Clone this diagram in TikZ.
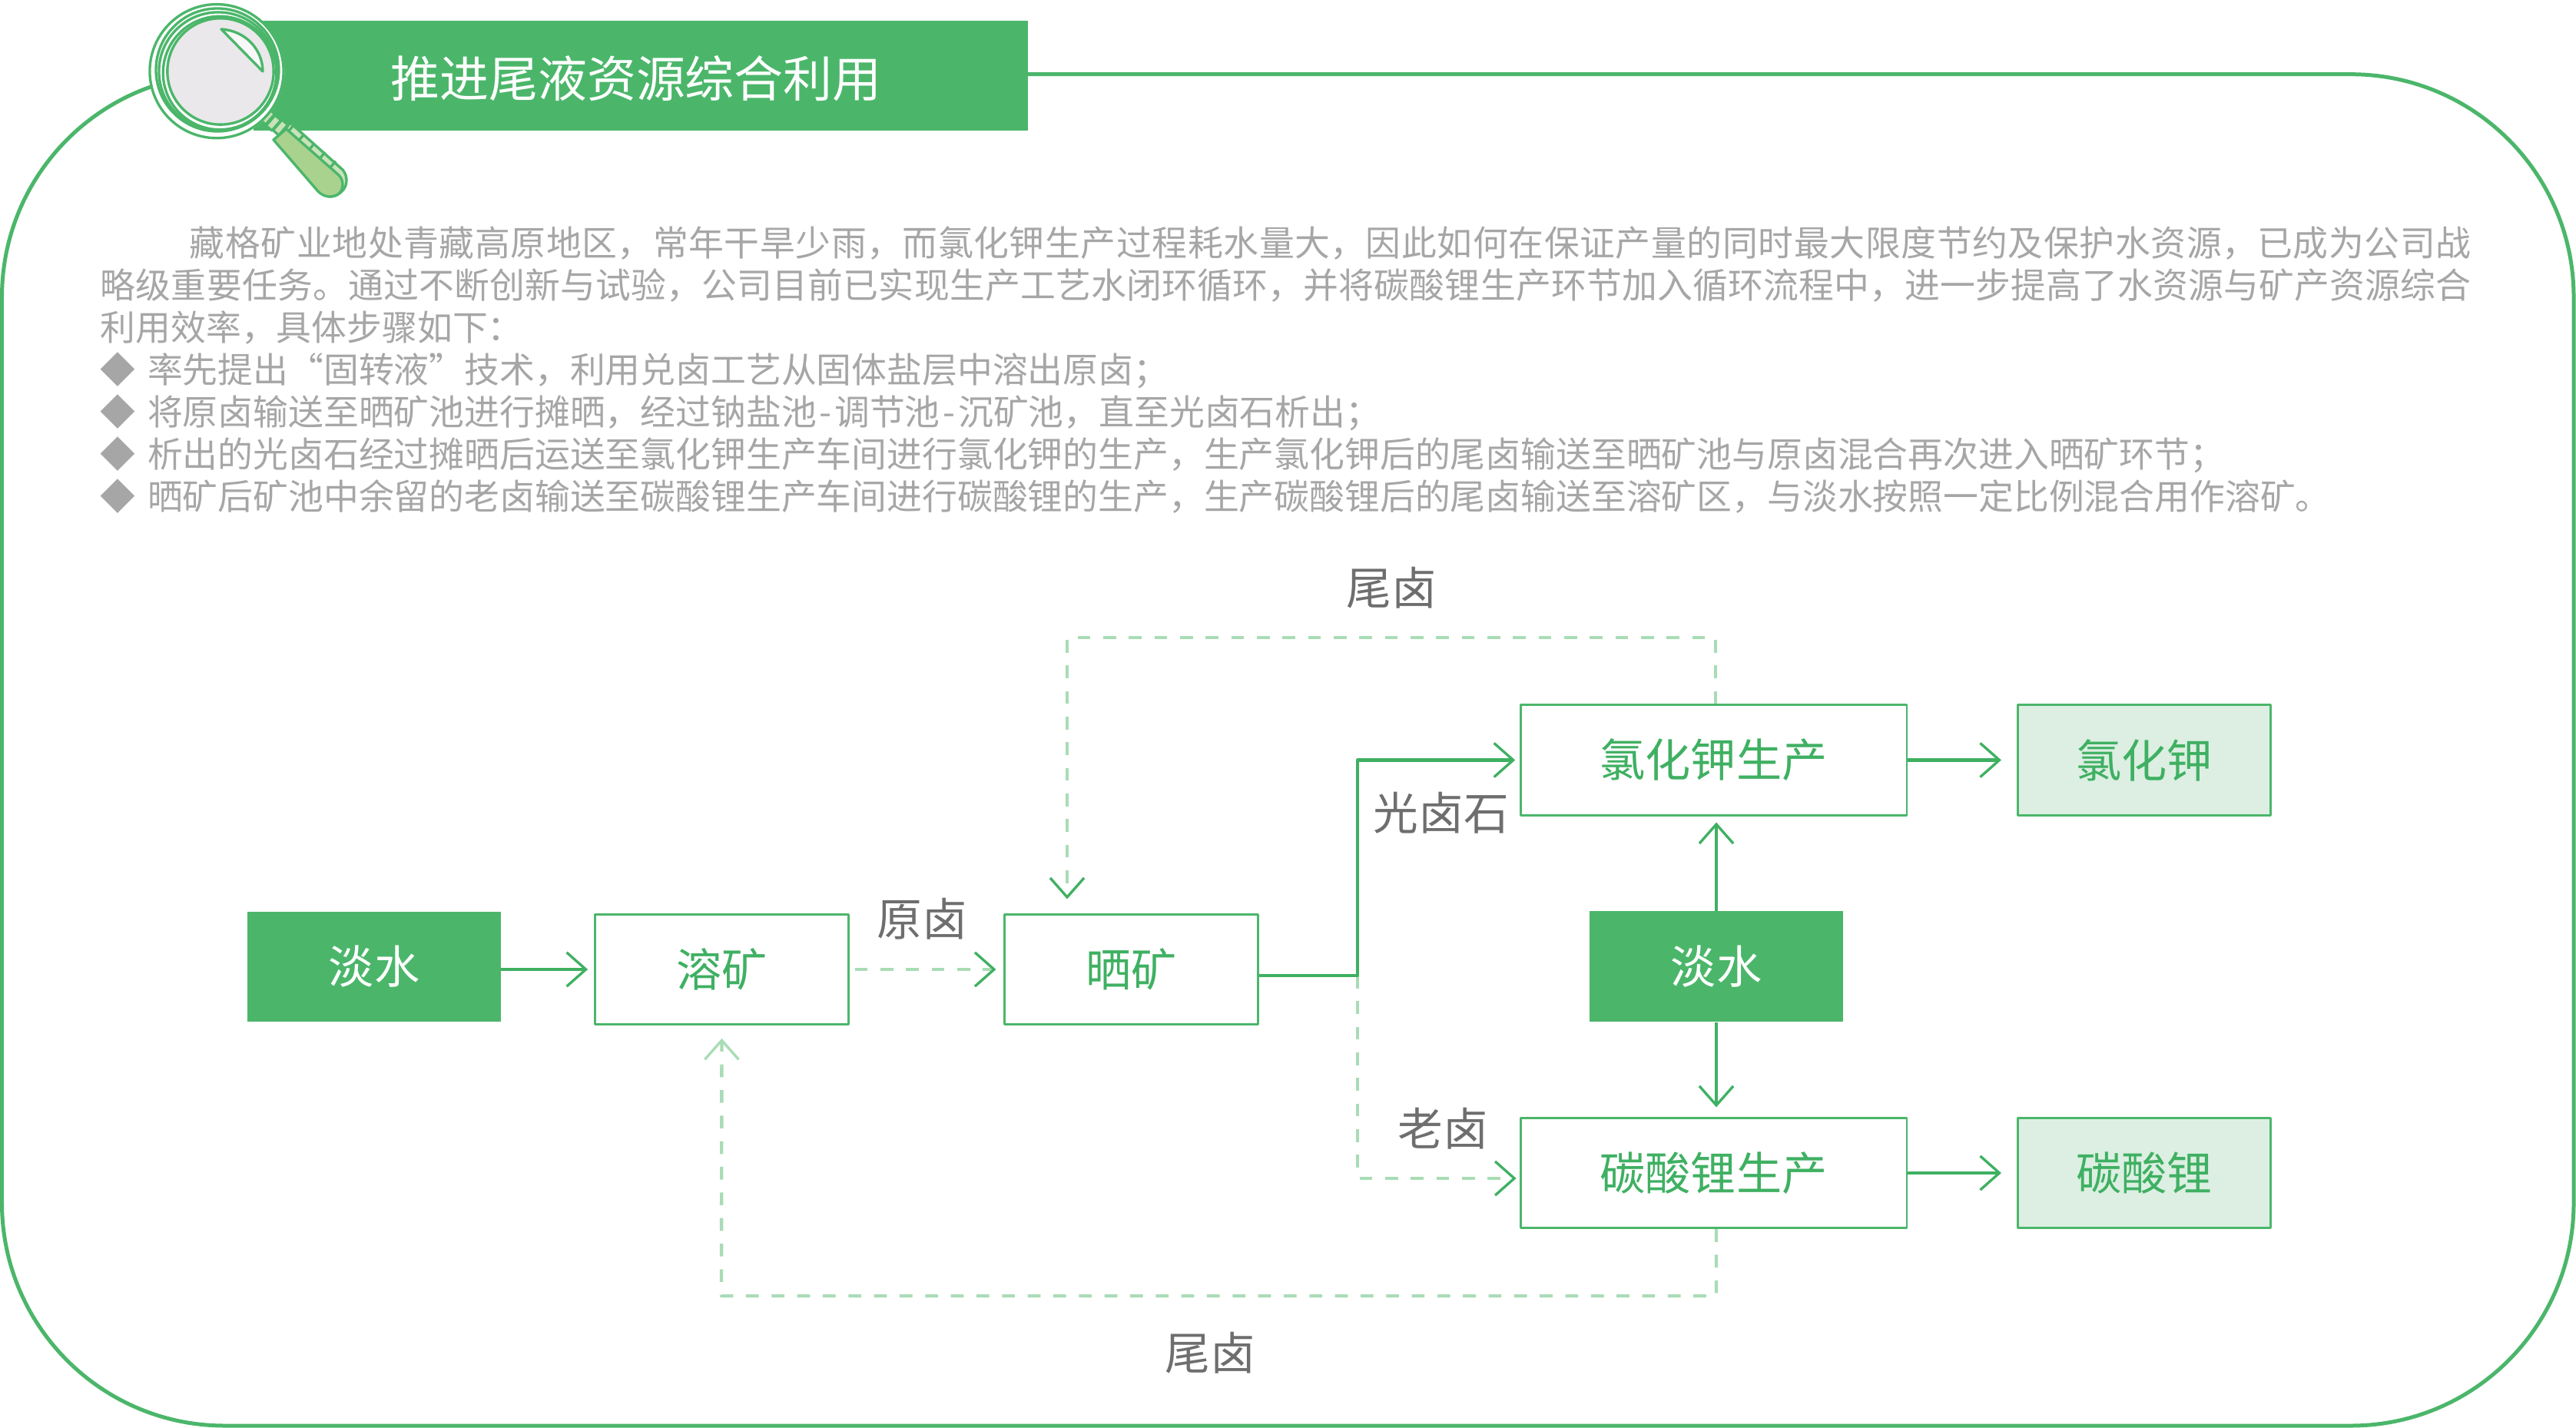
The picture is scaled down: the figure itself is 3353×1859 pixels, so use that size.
\documentclass[tikz,border=0pt]{standalone}
\usepackage{fontspec}
\setmainfont{Noto Sans CJK SC}
\XeTeXlinebreaklocale "zh"
\XeTeXlinebreakskip=0pt plus .6pt
\usetikzlibrary{arrows.meta}
\definecolor{framegreen}{HTML}{4BB66A}
\definecolor{flowgreen}{HTML}{3FB062}
\definecolor{dashgreen}{HTML}{A9DCB6}
\definecolor{palegreen}{HTML}{DCEFE2}
\definecolor{bodygray}{HTML}{A6A6A6}
\definecolor{labelgray}{HTML}{6E6E6E}
\definecolor{lensgray}{HTML}{EAE8EB}
\definecolor{gripgreen}{HTML}{A9D28F}
\definecolor{gripstrip}{HTML}{C9E2B9}

\begin{document}
\begin{tikzpicture}[
  x=.24pt,
  y=-.24pt,
  line join=round,
  frameline/.style={draw=framegreen,line width=1.2pt},
  lensline/.style={draw=framegreen,line width=.8pt},
  boxbase/.style={inner sep=0pt,text=flowgreen,font=\fontsize{14.2}{16}\selectfont},
  outlinebox/.style={boxbase,draw=framegreen,line width=.7pt,fill=white,minimum height=34.4pt},
  processbox/.style={outlinebox,minimum width=79pt},
  widebox/.style={outlinebox,minimum width=120.7pt},
  productbox/.style={outlinebox,fill=palegreen,minimum width=79pt},
  waterbox/.style={boxbase,fill=framegreen,text=white,minimum width=79pt,minimum height=34.4pt},
  flowlabel/.style={inner sep=0pt,text=labelgray,font=\fontsize{14.1}{16}\selectfont},
  flow/.style={draw=flowgreen,line width=1pt,-{Straight Barb[length=6pt,width=10.6pt,line width=.8pt]}},
  backflow/.style={draw=dashgreen,line width=1.05pt,dash pattern=on 4pt off 4pt,-{Straight Barb[length=6pt,width=10.6pt,line width=.8pt,color=flowgreen]}},
  paleflow/.style={draw=dashgreen,line width=1.05pt,dash pattern=on 4pt off 4pt,-{Straight Barb[length=6pt,width=10.6pt,line width=.8pt]}}
]
  % Fix the page to the size of the artwork.
  \useasboundingbox (0,0) rectangle (3353,1859);

  % Outer frame, the title bar sits on top of it.
  \draw[frameline,rounded corners=69.6pt] (2.5,96.7) rectangle (3350,1856);
  \fill[framegreen] (330,27) rectangle (1338,170);
  \node[inner sep=0pt,text=white,font=\fontsize{15.35}{18}\selectfont] (title) at (828,102) {推进尾液资源综合利用};

  % Magnifier handle.
  \draw[lensline,fill=gripstrip] (372,167) -- (378,160) -- (446,221)
    .. controls (453,229) and (453,243) .. (444,250)
    .. controls (438,256) and (428,258) .. (420,253) -- cycle;
  \foreach \t in {4,22,...,76}
    \draw[lensline] ({372.7+.76*\t},{168+.65*\t}) -- ({379.2+.76*\t},{160.4+.65*\t});
  \draw[lensline,fill=gripgreen] (356,182) -- (372.7,168) -- (441,228)
    .. controls (449,236) and (447,250) .. (438,254)
    .. controls (430,258) and (420,256) .. (413,248) -- cycle;
  \foreach \px/\py in {348/152,356/160,365/166}
    \draw[lensline,fill=gripstrip,shift={(\px,\py)},rotate=49] (-9,-5) rectangle (9,5);

  % Magnifier rings and lens.
  \fill[white] (282,93) circle[radius=21.2pt];
  \draw[lensline] (282,92.7) circle[radius=20.9pt];
  \draw[lensline] (283,91) circle[radius=19.2pt];
  \draw[lensline] (284,93) circle[radius=18.5pt];
  \draw[lensline] (286,95) circle[radius=17.7pt];
  \draw[lensline,fill=lensgray] (287,93) circle[radius=16.6pt];
  \draw[lensline,fill=white!70!lensgray] (288,38)
    .. controls (320,40) and (342,65) .. (342,93) -- cycle;

  % Description text.
  \node[anchor=north west,inner sep=0pt,text width=740.6pt,align=justify,text=bodygray,
    font=\fontsize{11}{13.2}\selectfont] (intro) at (130,294) {%
    \hspace*{27.84pt}藏格矿业地处青藏高原地区，常年干旱少雨，而氯化钾生产过程耗水量大，因此如何在保证产量的同时最大限度节约及保护水资源，已成为公司战略级重要任务。通过不断创新与试验，公司目前已实现生产工艺水闭环循环，并将碳酸锂生产环节加入循环流程中，进一步提高了水资源与矿产资源综合利用效率，具体步骤如下：\par
    ◆\hspace{3.7pt}率先提出“固转液”技术，利用兑卤工艺从固体盐层中溶出原卤；\par
    ◆\hspace{3.7pt}将原卤输送至晒矿池进行摊晒，经过钠盐池\kern.9pt-\kern.9pt调节池\kern.9pt-\kern.9pt沉矿池，直至光卤石析出；\par
    ◆\hspace{3.7pt}析出的光卤石经过摊晒后运送至氯化钾生产车间进行氯化钾的生产，生产氯化钾后的尾卤输送至晒矿池与原卤混合再次进入晒矿环节；\par
    ◆\hspace{3.7pt}晒矿后矿池中余留的老卤输送至碳酸锂生产车间进行碳酸锂的生产，生产碳酸锂后的尾卤输送至溶矿区，与淡水按照一定比例混合用作溶矿。};

  % Process boxes.
  \node[waterbox] (waterLeft) at (487,1258.5) {\raisebox{-1pt}{淡水}};
  \node[processbox] (dissolve) at (939.5,1262) {溶矿};
  \node[processbox] (solar) at (1472.5,1262) {晒矿};
  \node[widebox] (kclPlant) at (2230.5,989.5) {氯化钾生产};
  \node[productbox] (kcl) at (2791,989.5) {氯化钾};
  \node[waterbox] (waterRight) at (2234,1258) {淡水};
  \node[widebox] (liPlant) at (2230.5,1527) {碳酸锂生产};
  \node[productbox] (lithium) at (2791,1527) {碳酸锂};

  % Flow labels.
  \node[flowlabel] (labelTop) at (1811,765) {尾卤};
  \node[flowlabel] (labelRaw) at (1200,1196) {原卤};
  \node[flowlabel] (labelCarn) at (1876,1058) {光卤石};
  \node[flowlabel] (labelOld) at (1878,1469) {老卤};
  \node[flowlabel] (labelBottom) at (1575,1761) {尾卤};

  % Bend points of the routed lines.
  \coordinate (trunk) at (1767,1270);
  \coordinate (oldIn) at (1979,1534);
  \coordinate (topRight) at (2233,830);
  \coordinate (topLeft) at (1389,830);
  \coordinate (solarIn) at (1389,1190);
  \coordinate (bottomRight) at (2234,1687);
  \coordinate (bottomLeft) at (939,1687);

  % Dashed return lines go first, solid lines over them.
  \draw[backflow,shorten >=2.4pt,shorten <=1.7pt] (dissolve.east) -- (solar.west);
  \draw[backflow,shorten >=4.7pt] (topRight |- kclPlant.north) -- (topRight) -- (topLeft) -- (solarIn);
  \draw[backflow,shorten >=1.3pt] (trunk) |- (oldIn);
  \draw[paleflow,shorten >=4pt] (bottomRight |- liPlant.south) -- (bottomRight) -- (bottomLeft) -- (dissolve.south);

  \draw[flow,shorten >=2pt] (waterLeft.east |- dissolve.west) -- (dissolve.west);
  \draw[flow,shorten >=1.3pt] (solar.east |- trunk) -- (trunk) |- (kclPlant.west);
  \draw[flow,shorten >=1.9pt] (waterRight.north) -- (waterRight.north |- kclPlant.south);
  \draw[flow,shorten >=3pt] (waterRight.south) -- (waterRight.south |- liPlant.north);
  \draw[flow,shorten >=4.8pt] (kclPlant.east) -- (kcl.west);
  \draw[flow,shorten >=4.8pt] (liPlant.east) -- (lithium.west);
\end{tikzpicture}
\end{document}
